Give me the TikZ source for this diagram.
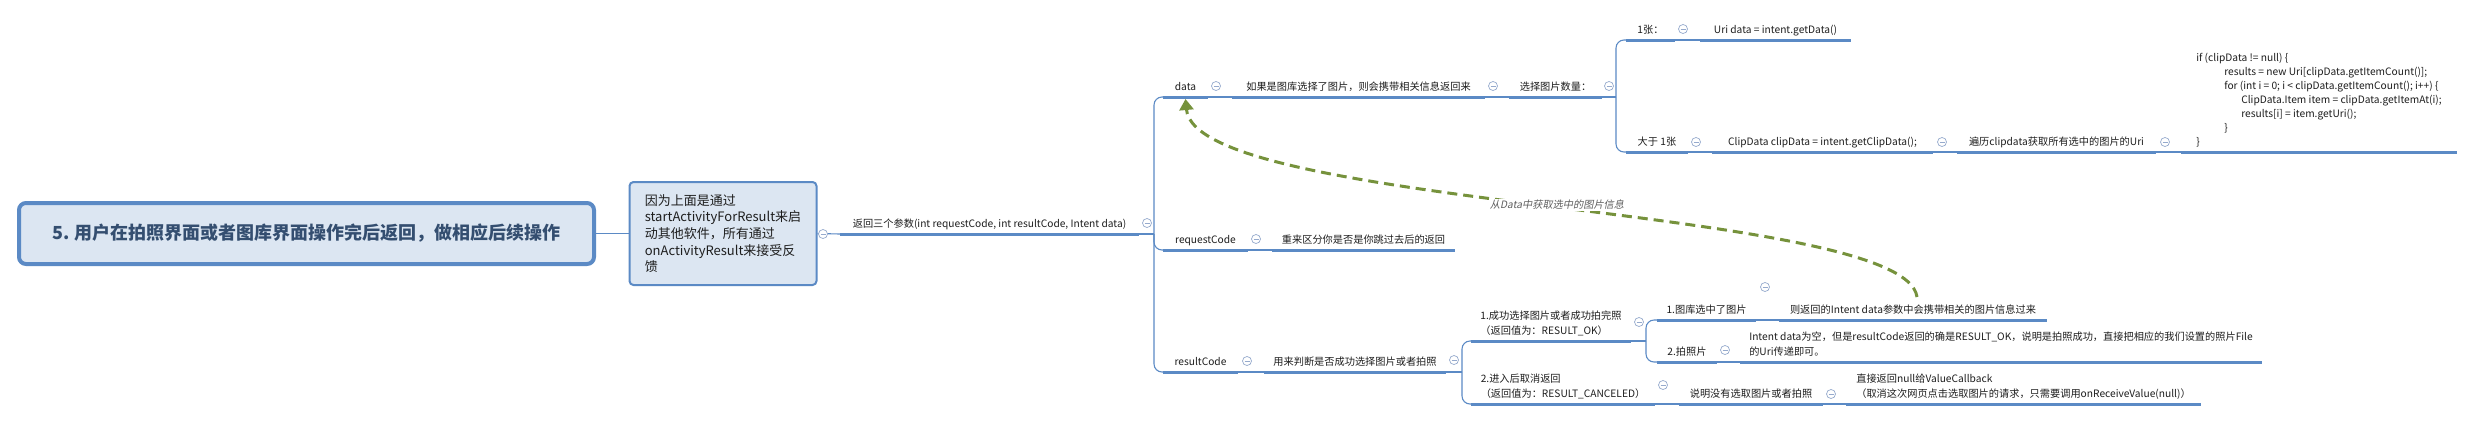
\documentclass[tikz,border=0pt]{standalone}
\usepackage{fontspec}
\setmainfont{Noto Sans CJK SC}
\newfontfamily\slfont[FakeSlant=0.2]{Noto Sans CJK SC}
\usetikzlibrary{arrows.meta,calc}
\definecolor{lineblue}{RGB}{91,138,197}
\definecolor{boxfill}{RGB}{220,230,242}
\definecolor{circcol}{RGB}{150,170,205}
\definecolor{relgreen}{RGB}{118,146,60}
\definecolor{roottext}{RGB}{52,78,112}
\definecolor{txt}{RGB}{30,30,30}
\definecolor{labgray}{RGB}{95,95,95}
\newcommand\mlines[2]{\vbox{\baselineskip=15pt\hbox{#1}\hbox{#2}}}
\begin{document}
\begin{tikzpicture}[x=1pt,y=-1pt,
 topic/.style={anchor=south west, inner sep=0pt, outer sep=0pt, text depth=6.6pt, font=\fontsize{10.2}{12}\selectfont, text=txt},
 uline/.style={draw=lineblue, line width=3pt},
 conn/.style={draw=lineblue, line width=1.1pt},
 fork/.style={conn, rounded corners=8pt},
 collapse/.style={circle, draw=circcol, fill=white, line width=0.7pt, minimum size=9pt, inner sep=0pt,
   path picture={\draw[circcol, line width=0.7pt] ([xshift=-2.5pt]path picture bounding box.center) -- ([xshift=2.5pt]path picture bounding box.center);}},
 rel/.style={draw=relgreen, line width=3pt, dash pattern=on 10pt off 6pt, -{Triangle[length=11pt,width=14pt]}},
]
\fill[white] (0,0) rectangle (2474,421);
\useasboundingbox (0,0) rectangle (2474,421);

% main boxes
\node[draw=lineblue, line width=4pt, fill=boxfill, rounded corners=7pt, minimum width=575pt, minimum height=61pt,
  font=\fontsize{18}{22}\selectfont\bfseries, text=roottext] (root) at (306.5,233.5)
  {5. 用户在拍照界面或者图库界面操作完后返回，做相应后续操作};
\node[draw=lineblue, line width=2pt, fill=boxfill, rounded corners=4pt, minimum width=187pt, minimum height=103pt,
  align=left, font=\fontsize{13}{16.7}\selectfont, text=txt] (second) at (723,233.5)
  {因为上面是通过\\startActivityForResult来启\\动其他软件，所有通过\\onActivityResult来接受反\\馈};

% topics
\node[topic, minimum width=299pt] (ret) at (840,234) {返回三个参数(int requestCode, int resultCode, Intent data)};
\node[topic, minimum width=45pt] (data) at (1163,97) {data};
\node[topic, minimum width=253pt] (dataDesc) at (1232,97) {如果是图库选择了图片，则会携带相关信息返回来};
\node[topic, minimum width=93pt] (count) at (1509,97) {选择图片数量：};
\node[topic, minimum width=49pt] (one) at (1626,40) {1张：};
\node[topic, minimum width=151pt] (getData) at (1700,40) {Uri data = intent.getData()};
\node[topic, minimum width=62pt] (more) at (1626,152) {大于 1张};
\node[topic, minimum width=221pt] (getClip) at (1712,152) {ClipData clipData = intent.getClipData();};
\node[topic, minimum width=199pt] (iterate) at (1957,152) {遍历clipdata获取所有选中的图片的Uri};
\node[topic, minimum width=276pt] (code) at (2181,152) {\vbox{\baselineskip=14pt
  \hbox{if (clipData != null) \{}
  \hbox{\hspace*{28pt}results = new Uri[clipData.getItemCount()];}
  \hbox{\hspace*{28pt}for (int i = 0; i < clipData.getItemCount(); i++) \{}
  \hbox{\hspace*{45pt}ClipData.Item item = clipData.getItemAt(i);}
  \hbox{\hspace*{45pt}results[i] = item.getUri();}
  \hbox{\hspace*{28pt}\}}
  \hbox{\}}}};
\node[topic, minimum width=85pt] (reqCode) at (1163,250) {requestCode};
\node[topic, minimum width=183pt] (reqDesc) at (1272,250) {重来区分你是否是你跳过去后的返回};
\node[topic, minimum width=75pt] (resCode) at (1163,372) {resultCode};
\node[topic, minimum width=182pt] (resDesc) at (1264,372) {用来判断是否成功选择图片或者拍照};
\node[topic, minimum width=160pt] (ok) at (1471,341) {\mlines{1.成功选择图片或者成功拍完照}{（返回值为：RESULT\_OK）}};
\node[topic, minimum width=99pt] (gallery) at (1657,320) {1.图库选中了图片};
\node[topic, minimum width=268pt] (galleryRes) at (1779,320) {则返回的Intent data参数中会携带相关的图片信息过来};
\node[topic, minimum width=60pt] (photo) at (1657,362) {2.拍照片};
\node[topic, minimum width=522pt] (photoRes) at (1740,362) {\mlines{Intent data为空，但是resultCode返回的确是RESULT\_OK，说明是拍照成功，直接把相应的我们设置的照片File}{的Uri传递即可。}};
\node[topic, minimum width=184pt] (cancel) at (1471,404) {\mlines{2.进入后取消返回}{（返回值为：RESULT\_CANCELED）}};
\node[topic, minimum width=144pt] (cancelDesc) at (1679,404) {说明没有选取图片或者拍照};
\node[topic, minimum width=355pt] (cancelRes) at (1846,404) {\mlines{直接返回null给ValueCallback}{（取消这次网页点击选取图片的请求，只需要调用onReceiveValue(null)）}};

% fork points
\coordinate (f1) at (1154,234);
\coordinate (f2) at (1616,97);
\coordinate (f3) at (1462,372);
\coordinate (f4) at (1646,341);

% connectors
\draw[conn] (root.east) -- (second.west);
\draw[conn] (second.east) -- (ret.south west);
\draw[conn] (ret.south east) -- (f1);
\draw[fork] (f1) |- (data.south west);
\draw[fork] (f1) |- (reqCode.south west);
\draw[fork] (f1) |- (resCode.south west);
\draw[conn] (data.south east) -- (dataDesc.south west);
\draw[conn] (dataDesc.south east) -- (count.south west);
\draw[conn] (count.south east) -- (f2);
\draw[fork] (f2) |- (one.south west);
\draw[fork] (f2) |- (more.south west);
\draw[conn] (one.south east) -- (getData.south west);
\draw[conn] (more.south east) -- (getClip.south west);
\draw[conn] (getClip.south east) -- (iterate.south west);
\draw[conn] (iterate.south east) -- (code.south west);
\draw[conn] (reqCode.south east) -- (reqDesc.south west);
\draw[conn] (resCode.south east) -- (resDesc.south west);
\draw[conn] (resDesc.south east) -- (f3);
\draw[fork] (f3) |- (ok.south west);
\draw[fork] (f3) |- (cancel.south west);
\draw[conn] (ok.south east) -- (f4);
\draw[fork] (f4) |- (gallery.south west);
\draw[fork] (f4) |- (photo.south west);
\draw[conn] (gallery.south east) -- (galleryRes.south west);
\draw[conn] (photo.south east) -- (photoRes.south west);
\draw[conn] (cancel.south east) -- (cancelDesc.south west);
\draw[conn] (cancelDesc.south east) -- (cancelRes.south west);

% underlines
\foreach \n in {ret,data,dataDesc,count,one,getData,more,getClip,iterate,code,reqCode,reqDesc,resCode,resDesc,ok,gallery,galleryRes,photo,photoRes,cancel,cancelDesc,cancelRes}
  \draw[uline] (\n.south west) -- (\n.south east);

% relationship
\draw[rel] ($(galleryRes.south west)+(138,-23)$) .. controls +(-12,-92) and +(10,111) .. ($(data.south)+(0,2)$);
\node[fill=white, inner sep=1pt, text=labgray, font=\slfont\fontsize{10.2}{12}\selectfont] (rellab) at (1557,205) {从Data中获取选中的图片信息};

% collapse markers
\node[collapse] (c1) at (823,234) {};
\node[collapse] (c2) at (1147,223) {};
\node[collapse] (c3) at (1216,86) {};
\node[collapse] (c4) at (1493,86) {};
\node[collapse] (c5) at (1609,86) {};
\node[collapse] (c6) at (1683,29) {};
\node[collapse] (c7) at (1696,142) {};
\node[collapse] (c8) at (1942,142) {};
\node[collapse] (c9) at (2165,142) {};
\node[collapse] (c10) at (1256,239) {};
\node[collapse] (c11) at (1247,361) {};
\node[collapse] (c12) at (1454,360) {};
\node[collapse] (c13) at (1639,322) {};
\node[collapse] (c14) at (1765,287) {};
\node[collapse] (c15) at (1725,350) {};
\node[collapse] (c16) at (1663,385) {};
\node[collapse] (c17) at (1831,394) {};
\end{tikzpicture}
\end{document}
